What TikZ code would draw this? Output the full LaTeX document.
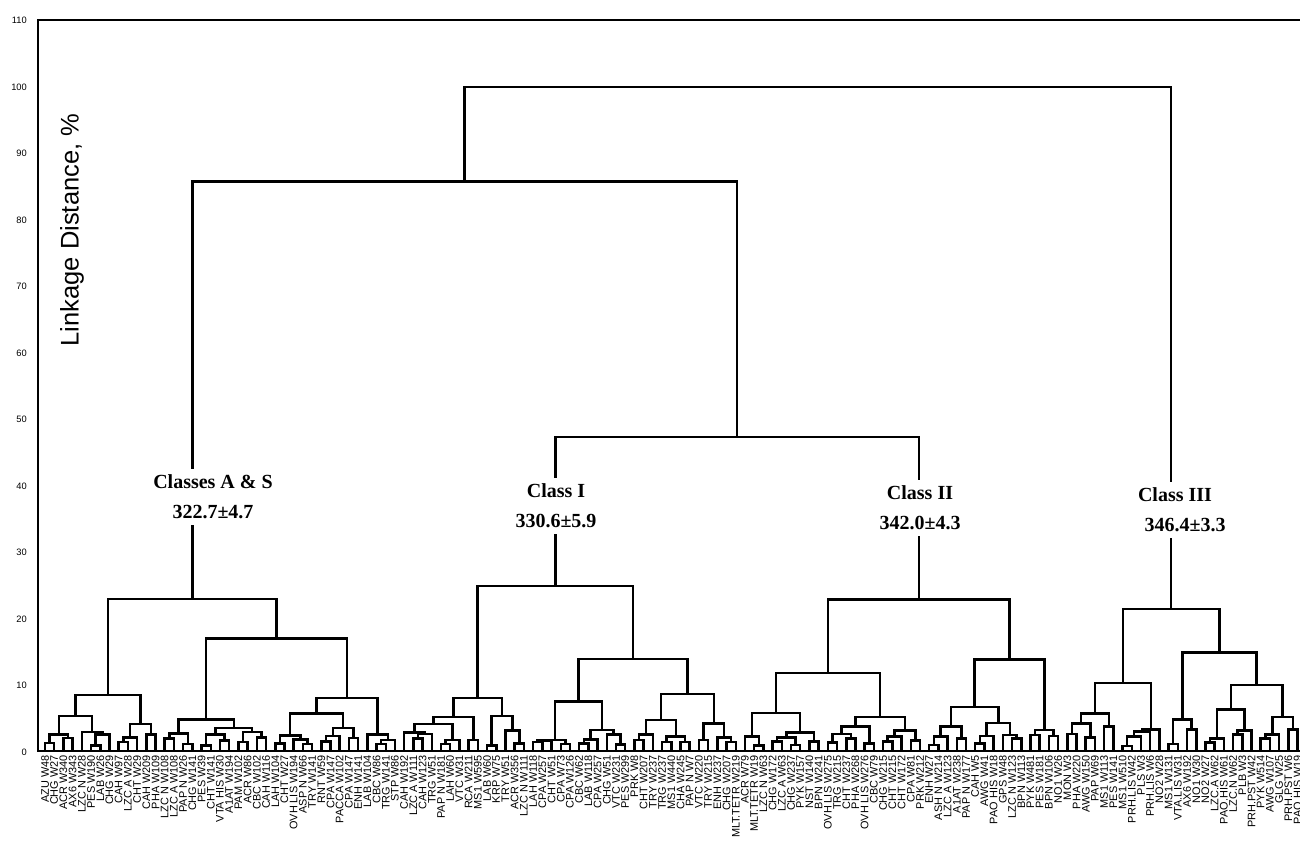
\documentclass[tikz,border=0pt]{standalone}
\usepackage{fontspec}
\setmainfont{Liberation Serif}
\setsansfont{Liberation Sans}
\usetikzlibrary{calc}
\tikzset{
  dend/.style={line width=2.5pt, line join=miter},
  axisline/.style={line width=2.6pt},
  lbl/.style={rotate=90, anchor=east, inner sep=0pt, font=\sffamily\fontsize{10.9}{10}\selectfont},
  ticklbl/.style={anchor=east, inner sep=0pt, font=\sffamily\fontsize{9.3}{9}\selectfont},
  cls/.style={fill=white, inner xsep=2pt, inner ysep=6pt, align=center, font=\bfseries\fontsize{20}{30}\selectfont},
}
\newcommand\mrg[4]{\path let \p1=(#2), \p2=(#3), \n1={(\x1+\x2)/2} in coordinate (#1) at (\n1,{752-6.65*#4});
\draw[dend] (#2) |- (#1) -| (#3);}
\begin{document}
\begin{tikzpicture}[x=1pt,y=-1pt]
\useasboundingbox (0,0) rectangle (1300,846);
% axes
\coordinate (tl) at (38,20);
\coordinate (tr) at (1300,20);
\coordinate (bl) at (38,751);
\coordinate (br) at (1300,751);
\draw[axisline] (tr) -- (tl) -- (bl) -- (br);
\foreach \v in {0,10,...,110} \node[ticklbl] (tick\v) at (27,{752-6.65*\v}) {\v};
\node[rotate=90, font=\sffamily\fontsize{25.5}{25}\selectfont] (ytitle) at (72,230) {Linkage Distance, \%};
% leaves
\foreach \t [count=\i] in {AZU W48, CHG W27, ACR W340, AX6 W343, LZC N W28, PES W190, LAB W26, CHG W29, CAH W97, LZC A W28, CHT W29, CAH W209, PHA W109, LZC N W108, LZC A W108, PAP N W26, CHG W141, PES W39, CHT W141, VTA HIS W30, A1AT W194, PAM W102, ACR W86, CBC W102, CAH W116, LAH W104, CHT W27, OVH LIS W194, ASP N W66, TRY W141, RNT W59, CPA W147, PACCA W102, CPA W147, ENH W141, LAB W104, CBC W86, TRG W141, STP W86, CAH W192, LZC A W111, CAH W123, TRG W51, PAP N W181, LAH W60, VTC W31, RCA W211, MS1 W595, LAB W60, KRP W75, TRY W51, ACR W356, LZC N W111, LAH W118, CPA W257, CHT W51, CPA W73, CPA W126, CBC W62, LAB W118, CPA W257, CHG W51, VTC W231, PES W299, PRK W8, CHT W207, TRY W237, TRG W237, MS1 W440, CHA W245, PAP N W7, VTC W220, TRY W215, ENH W237, CHG W207, MLT.TETR W219, ACR W79, MLT.TETR W19, LZC N W63, CHG W172, LZC A W63, CHG W237, PYK W157, NST W140, BPN W241, OVH LIS W275, TRG W215, CHT W237, PHA W268, OVH LIS W276, CBC W79, CHG W215, CHT W215, CHT W172, CPA W81, PRK W212, ENH W27, ASH N W214, LZC A W123, A1AT W238, PAP N W177, CAH W5, AWG W41, PAO HIS W18, GPS W48, LZC N W123, BPN W113, PYK W481, PES W181, BPN W106, NO1 W26, MON W3, PHA W220, AWG W150, PAP W69, MS1 W113, PES W141, MS1 W510, PRH.LIS W42, PLS W3, PRH.LIS W6, NO2 W28, MS1 W131, VTA.LIS W31, AX6 W192, NO1 W30, NO2 W27, LZC.A W62, PAO.HIS W61, LZC.N W62, PLB W3, PRH.PST W42, PYK W514, AWG W107, GLG W25, PRH.PST W6, PAO.HIS W19}{
  \coordinate (L\i) at ({45+9.21*(\i-1)},751);
  \node[lbl] (T\i) at ({45+9.21*(\i-1)},755) {\t};
}
% ---- Classes A & S
\mrg{a1}{L1}{L2}{1.35}
\mrg{a2}{L3}{L4}{2.1}
\mrg{a3}{a1}{a2}{2.6}
\mrg{a4}{L6}{L7}{1.0}
\mrg{a5}{a4}{L8}{2.6}
\mrg{a6}{L5}{a5}{3.0}
\mrg{a7}{a3}{a6}{5.4}
\mrg{a8}{L9}{L10}{1.5}
\mrg{a9}{a8}{L11}{2.2}
\mrg{a10}{L12}{L13}{2.6}
\mrg{a11}{a9}{a10}{4.2}
\mrg{aL}{a7}{a11}{8.6}
\mrg{a12}{L14}{L15}{2.0}
\mrg{a13}{L16}{L17}{1.2}
\mrg{a14}{a12}{a13}{2.8}
\mrg{a15}{L18}{L19}{1.0}
\mrg{a16}{L20}{L21}{1.7}
\mrg{a17}{a15}{a16}{2.6}
\mrg{a18}{L22}{L23}{1.5}
\mrg{a19}{L24}{L25}{2.2}
\mrg{a20}{a18}{a19}{3.0}
\mrg{a21}{a17}{a20}{3.6}
\mrg{a22}{a14}{a21}{4.9}
\mrg{a23}{L26}{L27}{1.3}
\mrg{a24}{L29}{L30}{1.2}
\mrg{a25}{L28}{a24}{1.9}
\mrg{a26}{a23}{a25}{2.5}
\mrg{a27}{L31}{L32}{1.6}
\mrg{a28}{a27}{L33}{2.4}
\mrg{a29}{L34}{L35}{2.1}
\mrg{a30}{a28}{a29}{3.6}
\mrg{a31}{a26}{a30}{5.8}
\mrg{a32}{L37}{L38}{1.2}
\mrg{a33}{a32}{L39}{1.8}
\mrg{a34}{L36}{a33}{2.6}
\mrg{a35}{a31}{a34}{8.1}
\mrg{aR}{a22}{a35}{17.1}
\mrg{aS}{aL}{aR}{23}
% ---- Class I
\mrg{b1}{L41}{L42}{2.0}
\mrg{b2}{b1}{L43}{2.7}
\mrg{b3}{L40}{b2}{2.9}
\mrg{b4}{L44}{L45}{1.2}
\mrg{b5}{b4}{L46}{1.8}
\mrg{b6}{b3}{b5}{4.2}
\mrg{b7}{L47}{L48}{1.8}
\mrg{b8}{b6}{b7}{5.3}
\mrg{b9}{L49}{L50}{1.0}
\mrg{b10}{L52}{L53}{1.3}
\mrg{b11}{L51}{b10}{3.2}
\mrg{b12}{b9}{b11}{5.4}
\mrg{bL}{b8}{b12}{8.1}
\mrg{b13}{L54}{L55}{1.5}
\mrg{b14}{b13}{L56}{1.7}
\mrg{b15}{L57}{L58}{1.2}
\mrg{b16}{b14}{b15}{1.8}
\mrg{b17}{L59}{L60}{1.3}
\mrg{b18}{b17}{L61}{1.9}
\mrg{b19}{L63}{L64}{1.1}
\mrg{b20}{L62}{b19}{2.6}
\mrg{b21}{b18}{b20}{3.3}
\mrg{b22}{b16}{b21}{7.6}
\mrg{b23}{L65}{L66}{1.8}
\mrg{b24}{b23}{L67}{2.6}
\mrg{b25}{L68}{L69}{1.5}
\mrg{b26}{L70}{L71}{1.5}
\mrg{b27}{b25}{b26}{2.3}
\mrg{b28}{b24}{b27}{4.8}
\mrg{b29}{L72}{L73}{1.8}
\mrg{b30}{L75}{L76}{1.5}
\mrg{b31}{L74}{b30}{2.2}
\mrg{b32}{b29}{b31}{4.3}
\mrg{b33}{b28}{b32}{8.7}
\mrg{bR}{b22}{b33}{14}
\mrg{cI}{bL}{bR}{25}
% ---- Class II
\mrg{c1}{L78}{L79}{1.0}
\mrg{c2}{L77}{c1}{2.3}
\mrg{c3}{L80}{L81}{1.55}
\mrg{c4}{L82}{L83}{1.05}
\mrg{c5}{c3}{c4}{2.2}
\mrg{c6}{L84}{L85}{1.55}
\mrg{c7}{c5}{c6}{2.9}
\mrg{c8}{c2}{c7}{5.9}
\mrg{c9}{L86}{L87}{1.4}
\mrg{c10}{L88}{L89}{2.0}
\mrg{c11}{c9}{c10}{2.7}
\mrg{c12}{L90}{L91}{1.25}
\mrg{c13}{c11}{c12}{3.8}
\mrg{c14}{L92}{L93}{1.55}
\mrg{c15}{c14}{L94}{2.3}
\mrg{c16}{L95}{L96}{1.75}
\mrg{c17}{c15}{c16}{3.2}
\mrg{c18}{c13}{c17}{5.3}
\mrg{cL}{c8}{c18}{11.9}
\mrg{c19}{L97}{L98}{1.05}
\mrg{c20}{c19}{L99}{2.3}
\mrg{c21}{L100}{L101}{2.05}
\mrg{c22}{c20}{c21}{3.8}
\mrg{c23}{L102}{L103}{1.3}
\mrg{c24}{c23}{L104}{2.4}
\mrg{c25}{L106}{L107}{2.0}
\mrg{c26}{L105}{c25}{2.55}
\mrg{c27}{c24}{c26}{4.4}
\mrg{c28}{c22}{c27}{6.8}
\mrg{c29}{L108}{L109}{2.55}
\mrg{c30}{L110}{L111}{2.4}
\mrg{c31}{c29}{c30}{3.3}
\mrg{cR}{c28}{c31}{13.9}
\mrg{cII}{cL}{cR}{22.9}
% ---- Class III
\mrg{d1}{L112}{L113}{2.7}
\mrg{d2}{L114}{L115}{2.2}
\mrg{d3}{d1}{d2}{4.3}
\mrg{d4}{L116}{L117}{3.8}
\mrg{d5}{d3}{d4}{5.8}
\mrg{d6}{L118}{L119}{0.9}
\mrg{d7}{d6}{L120}{2.3}
\mrg{d8}{d7}{L121}{3.1}
\mrg{d9}{d8}{L122}{3.4}
\mrg{dL}{d5}{d9}{10.4}
\mrg{d10}{L123}{L124}{1.2}
\mrg{d11}{L125}{L126}{3.4}
\mrg{d12}{d10}{d11}{4.9}
\mrg{d13}{L127}{L128}{1.4}
\mrg{d14}{d13}{L129}{2.05}
\mrg{d15}{L130}{L131}{2.6}
\mrg{d16}{d15}{L132}{3.2}
\mrg{d17}{d14}{d16}{6.4}
\mrg{d18}{L133}{L134}{2.05}
\mrg{d19}{d18}{L135}{2.6}
\mrg{d20}{L136}{L137}{3.4}
\mrg{d21}{d19}{d20}{5.3}
\mrg{d22}{d17}{d21}{10.1}
\mrg{dR}{d12}{d22}{15.0}
\mrg{dIII}{dL}{dR}{21.5}
% ---- top
\mrg{e1}{cI}{cII}{47.4}
\mrg{e2}{aS}{e1}{85.8}
\mrg{root}{e2}{dIII}{100}
% ---- class labels
\node[cls] (kAS) at (213,497) {Classes A \& S\\322.7±4.7};
\node[cls] (kI) at (556,506) {Class I\\330.6±5.9};
\node[cls] (kII) at (920,508) {Class II\\342.0±4.3};
\node[cls] (kIII) at (1175,510) {Class III\\\hspace*{20pt}346.4±3.3};
\end{tikzpicture}
\end{document}
